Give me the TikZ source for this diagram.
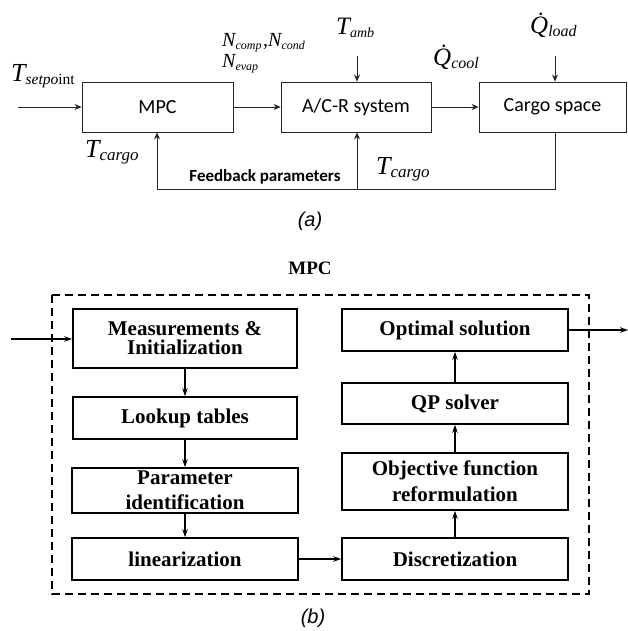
\documentclass[tikz,border=0pt]{standalone}
\usepackage{fontspec}
\setmainfont{Liberation Serif}
\newfontfamily\calfont{Carlito}
\newfontfamily\arialfont{Liberation Sans}
\usetikzlibrary{arrows.meta}
\newcommand{\lbl}[4]{{\fontsize{#3}{#3}\selectfont\itshape #1}\raisebox{-0.25em}{\fontsize{#4}{#4}\selectfont\itshape #2}}
\begin{document}
\begin{tikzpicture}[x=1pt,y=-1pt,
  topbox/.style={draw=black!85, line width=0.8pt, inner sep=0pt, font=\calfont\fontsize{20}{20}\selectfont},
  topline/.style={draw=black!85, line width=0.8pt},
  toparrow/.style={topline, -{Stealth[length=7pt,width=6pt]}},
  botbox/.style={draw, line width=1.6pt, inner sep=0pt, align=center, font=\bfseries\fontsize{21}{19}\selectfont},
  botarrow/.style={draw, line width=1.9pt, -{Stealth[length=8pt,width=5.5pt]}},
  mathlbl/.style={inner sep=0pt}
]
\useasboundingbox (0,0) rectangle (628,631);
% ---------- (a) ----------
\node[topbox, minimum width=151pt, minimum height=50pt] (mpc) at (157.5,107) {MPC};
\node[topbox, minimum width=150pt, minimum height=50pt] (acr) at (356,107) {A/C-R system};
\node[topbox, minimum width=147pt, minimum height=50pt] (cargo) at (552.5,107) {Cargo space};
\coordinate (in) at (18,107);
\draw[toparrow] (in) -- (mpc.west);
\draw[toparrow] (mpc.east) -- (acr.west);
\draw[toparrow] (acr.east) -- (cargo.west);
\coordinate (tamb) at (357,56);
\coordinate (qload) at (555,56);
\draw[toparrow] (tamb) -- (tamb |- acr.north);
\draw[toparrow] (qload) -- (qload |- cargo.north);
\coordinate (fbR) at (555,189);
\coordinate (fbL) at (157,189);
\coordinate (fbM) at (357,189);
\draw[topline] (cargo.south -| fbR) -- (fbR) -- (fbL);
\draw[toparrow] (fbL) -- (fbL |- mpc.south);
\draw[toparrow] (fbM) -- (fbM |- acr.south);
\node[inner sep=0pt, font=\calfont\bfseries\fontsize{17}{17}\selectfont] (fbtxt) at (265,177) {Feedback parameters};
\node[mathlbl, anchor=base west] (tset) at (11,82) {\lbl{T}{setpo\upshape int}{26}{15.5}};
\node[mathlbl, anchor=base west] (ncomp) at (222,47) {\lbl{N}{comp}{20}{12}\,{\fontsize{20}{20}\selectfont ,}\lbl{N}{cond}{20}{12}};
\node[mathlbl, anchor=base west] (nevap) at (222,68) {\lbl{N}{evap}{20}{12}};
\node[mathlbl, anchor=base west] (tambl) at (336,35) {\lbl{T}{amb}{25}{14}};
\node[mathlbl, anchor=base west] (qcool) at (433,66) {\lbl{\.{Q}}{cool}{25}{16}};
\node[mathlbl, anchor=base west] (qloadl) at (530,34) {\lbl{\.{Q}}{load}{25}{16}};
\node[mathlbl, anchor=base west] (tc1) at (85,158) {\lbl{T}{cargo}{26}{17}};
\node[mathlbl, anchor=base west] (tc2) at (376,175) {\lbl{T}{cargo}{26}{17}};
\node[font=\arialfont\itshape\fontsize{20}{20}\selectfont] (capa) at (310,221) {(a)};
% ---------- (b) ----------
\node[font=\bfseries\fontsize{19}{19}\selectfont] (mpct) at (310,268) {MPC};
\draw[line width=1.6pt, dash pattern=on 8pt off 5pt] (52,295) rectangle (589,594);
\node[botbox, minimum width=224pt, minimum height=59pt] (meas) at (185,338.5) {Measurements \&\\Initialization};
\node[botbox, minimum width=224pt, minimum height=42pt] (look) at (185,418) {Lookup tables};
\node[botbox, minimum width=226pt, minimum height=45pt, font=\bfseries\fontsize{21}{25}\selectfont] (param) at (185,490.5) {Parameter\\identification};
\node[botbox, minimum width=226pt, minimum height=42pt] (lin) at (185,559) {linearization};
\node[botbox, minimum width=226pt, minimum height=42pt] (opt) at (455,330) {Optimal solution};
\node[botbox, minimum width=226pt, minimum height=41pt] (qp) at (455,403.5) {QP solver};
\node[botbox, minimum width=226pt, minimum height=57pt, font=\bfseries\fontsize{21}{26}\selectfont] (obj) at (455,481.5) {Objective function\\reformulation};
\node[botbox, minimum width=226pt, minimum height=42pt] (disc) at (455,559) {Discretization};
\coordinate (bin) at (11,339);
\coordinate (bout) at (628,330);
\draw[botarrow] (bin) -- (bin -| meas.west);
\draw[botarrow] (meas.south) -- (look.north);
\draw[botarrow] (look.south) -- (param.north);
\draw[botarrow] (param.south) -- (lin.north);
\draw[botarrow] (lin.east) -- (disc.west);
\draw[botarrow] (disc.north) -- (obj.south);
\draw[botarrow] (obj.north) -- (qp.south);
\draw[botarrow] (qp.north) -- (opt.south);
\draw[botarrow] (opt.east) -- (bout);
\node[font=\arialfont\itshape\fontsize{20}{20}\selectfont] (capb) at (313,618) {(b)};
\end{tikzpicture}
\end{document}
